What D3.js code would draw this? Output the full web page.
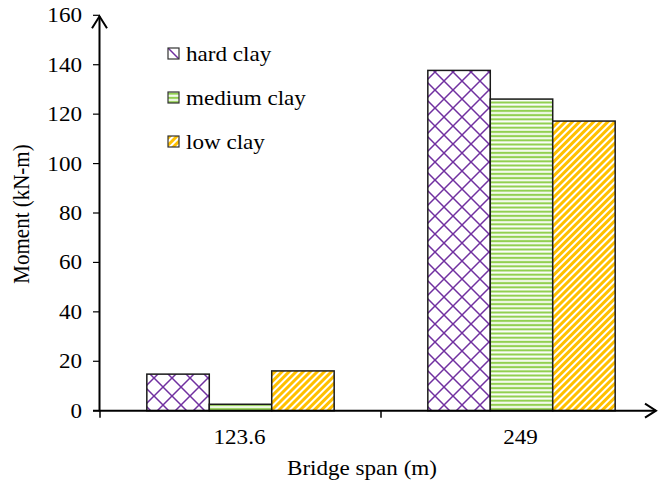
<!DOCTYPE html>
<html>
<head>
<meta charset="utf-8">
<script src="https://cdn.jsdelivr.net/npm/d3@7"></script>
<style>
  html, body { margin: 0; padding: 0; background: #fff; }
  svg { display: block; }
  text { font-family: "Liberation Serif", "Times New Roman", serif; fill: #000; }
</style>
</head>
<body>
<svg id="chart" width="659" height="490"></svg>
<script>
// Bridge span categories and moment values per soil type (kN-m)
const spans = ["123.6", "249"];
const soils = ["hard clay", "medium clay", "low clay"];
const hardClay = [14.8, 137.7];
const mediumClay = [2.6, 126.1];
const lowClay = [16.1, 117.2];
const yTicks = [0, 20, 40, 60, 80, 100, 120, 140, 160];

const seriesValues = [hardClay, mediumClay, lowClay];
const patternIds = ["pat-hard", "pat-medium", "pat-low"];

const svg = d3.select("#chart");
const fontSize = 21;
const stretch = 1.1; // text is drawn slightly wide

const plot = { left: 100, right: 662, top: 15.3, bottom: 410.7 };

const x = d3.scaleBand().domain(spans).range([plot.left, plot.right]).paddingInner(0).paddingOuter(0);
const xs = d3.scaleBand().domain(soils).range([0, x.bandwidth()]).paddingInner(0).paddingOuter(0.75);
const y = d3.scaleLinear().domain([0, 160]).range([plot.bottom, plot.top]);

// place a horizontally stretched text label at (px, py)
function label(sel, px, py, anchor, str) {
  return sel.append("text")
    .attr("transform", `translate(${px},${py}) scale(${stretch},1)`)
    .attr("text-anchor", anchor)
    .style("font-size", fontSize + "px")
    .text(str);
}

// Fill patterns
const defs = svg.append("defs");

const pHard = defs.append("pattern").attr("id", "pat-hard")
  .attr("patternUnits", "userSpaceOnUse").attr("width", 18).attr("height", 18);
pHard.append("rect").attr("width", 18).attr("height", 18).attr("fill", "#fff");
pHard.append("path").attr("d", "M0,0L18,18M18,0L0,18M-2,2L2,-2M16,20L20,16M-2,16L2,20M16,-2L20,2")
  .attr("stroke", "#7030A0").attr("stroke-width", 1.5).attr("fill", "none");

const pMed = defs.append("pattern").attr("id", "pat-medium")
  .attr("patternUnits", "userSpaceOnUse").attr("width", 8).attr("height", 4.2);
pMed.append("rect").attr("width", 8).attr("height", 4.2).attr("fill", "#fff");
pMed.append("rect").attr("y", 0.6).attr("width", 8).attr("height", 2.2).attr("fill", "#92D050");

const pLow = defs.append("pattern").attr("id", "pat-low")
  .attr("patternUnits", "userSpaceOnUse").attr("width", 5).attr("height", 10)
  .attr("patternTransform", "rotate(45)");
pLow.append("rect").attr("width", 5).attr("height", 10).attr("fill", "#fff");
pLow.append("rect").attr("width", 3).attr("height", 10).attr("fill", "#FFC000");

// Bars
const groups = svg.append("g").selectAll("g")
  .data(spans)
  .join("g")
  .attr("transform", d => `translate(${x(d)},0)`);

groups.selectAll("rect")
  .data((d, i) => soils.map((s, k) => ({ soil: s, value: seriesValues[k][i], pid: patternIds[k] })))
  .join("rect")
  .attr("x", d => xs(d.soil))
  .attr("width", xs.bandwidth())
  .attr("y", d => y(d.value))
  .attr("height", d => y(0) - y(d.value))
  .attr("fill", d => `url(#${d.pid})`)
  .attr("stroke", "#1a1a1a")
  .attr("stroke-width", 1.5);

// Y axis ticks and labels
const gy = svg.append("g");
gy.selectAll("line")
  .data(yTicks)
  .join("line")
  .attr("x1", plot.left - 7).attr("x2", plot.left)
  .attr("y1", d => y(d)).attr("y2", d => y(d))
  .attr("stroke", "#000").attr("stroke-width", 1.2);
yTicks.forEach(t => {
  label(gy, plot.left - 18, y(t) + 7, "end", String(t));
});

// X axis ticks at category boundaries
const xTickPos = [plot.left, x(spans[1])];
svg.append("g").selectAll("line")
  .data(xTickPos)
  .join("line")
  .attr("x1", d => d).attr("x2", d => d)
  .attr("y1", plot.bottom).attr("y2", plot.bottom + 7)
  .attr("stroke", "#000").attr("stroke-width", 1.5);

const gx = svg.append("g");
spans.forEach(s => {
  label(gx, x(s) + x.bandwidth() / 2 - 1, 444, "middle", s);
});

// Axis lines with open arrowheads
const axes = svg.append("g").attr("stroke", "#000").attr("fill", "none");
axes.append("line").attr("x1", plot.left - 0.5).attr("x2", plot.left - 0.5)
  .attr("y1", plot.bottom + 0.5).attr("y2", plot.top + 1).attr("stroke-width", 2);
axes.append("path")
  .attr("d", `M${plot.left - 8},${plot.top + 13}L${plot.left - 0.5},${plot.top + 1}L${plot.left + 7},${plot.top + 13}`)
  .attr("stroke-width", 2);
axes.append("line").attr("x1", 93).attr("x2", 656)
  .attr("y1", plot.bottom).attr("y2", plot.bottom).attr("stroke-width", 2);
axes.append("path")
  .attr("d", `M645,${plot.bottom - 7}L656,${plot.bottom}L645,${plot.bottom + 7}`)
  .attr("stroke-width", 2);

// Axis titles
label(svg, 362, 475, "middle", "Bridge span (m)");

svg.append("text")
  .attr("transform", `translate(29,214) rotate(-90) scale(1,${stretch})`)
  .attr("text-anchor", "middle")
  .style("font-size", fontSize + "px")
  .text("Moment (kN-m)");

// Legend
const lpHard = defs.append("pattern").attr("id", "leg-hard")
  .attr("patternUnits", "objectBoundingBox").attr("width", 1).attr("height", 1);
lpHard.append("rect").attr("width", 11).attr("height", 11).attr("fill", "#fff");
lpHard.append("path").attr("d", "M0,0L11,11").attr("stroke", "#7030A0").attr("stroke-width", 1.5);

const legendFill = ["url(#leg-hard)", "url(#pat-medium)", "url(#pat-low)"];
const legend = svg.append("g").selectAll("g")
  .data(soils)
  .join("g")
  .attr("transform", (d, i) => `translate(168,${48 + i * 44})`);
legend.append("rect")
  .attr("width", 11).attr("height", 11)
  .attr("fill", (d, i) => legendFill[i])
  .attr("stroke", "#333").attr("stroke-width", 1.2);
legend.append("text")
  .attr("transform", `translate(18,13) scale(${stretch},1)`)
  .style("font-size", fontSize + "px")
  .text(d => d);
</script>
</body>
</html>
